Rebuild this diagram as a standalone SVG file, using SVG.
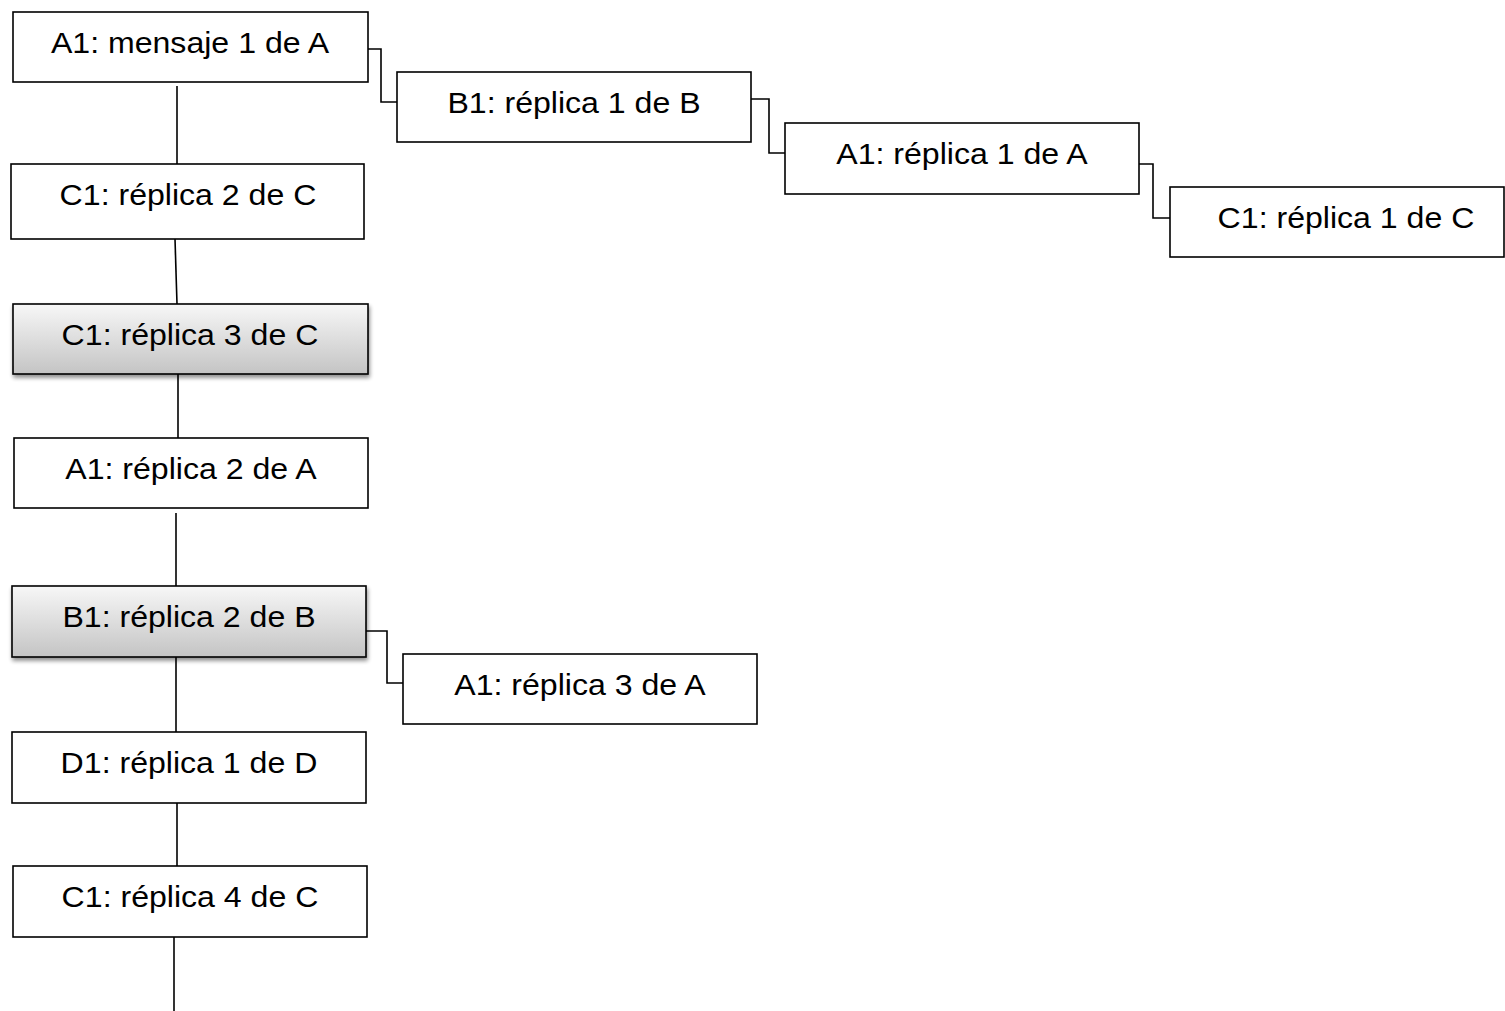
<svg xmlns="http://www.w3.org/2000/svg" width="1505" height="1011" viewBox="0 0 1505 1011">
<style>
.box{fill:#fff;stroke:#000;stroke-width:1.6}
.gbox{fill:url(#g);stroke:#000;stroke-width:1.6;filter:url(#sh)}
.lbl{font-family:"Liberation Sans",Arial,sans-serif;font-size:30px;fill:#000;text-anchor:middle}
.c{fill:none;stroke:#000;stroke-width:1.6}
</style>
<defs>
<linearGradient id="g" x1="0" y1="0" x2="0" y2="1">
<stop offset="0" stop-color="#f7f7f7"/>
<stop offset="1" stop-color="#c4c4c4"/>
</linearGradient>
<filter id="sh" x="-10%" y="-20%" width="120%" height="150%">
<feGaussianBlur in="SourceAlpha" stdDeviation="2"/>
<feOffset dx="1" dy="3" result="b"/>
<feComponentTransfer><feFuncA type="linear" slope="0.45"/></feComponentTransfer>
<feMerge><feMergeNode/><feMergeNode in="SourceGraphic"/></feMerge>
</filter>
</defs>
<g id="connectors">
<path class="c" d="M177 86 V164"/>
<path class="c" d="M175 239 L177 304"/>
<path class="c" d="M178 374 V438"/>
<path class="c" d="M176 513 V586"/>
<path class="c" d="M176 657 V732"/>
<path class="c" d="M177 803 V866"/>
<path class="c" d="M174 937 V1011"/>
<path class="c" d="M368 49 H381 V102 H397"/>
<path class="c" d="M751 99 H769 V153 H785"/>
<path class="c" d="M1139 164 H1153 V218 H1170"/>
<path class="c" d="M366 631 H387 V683 H403"/>
</g>
<g id="n1"><rect class="box" x="13" y="12" width="355" height="70"/><text class="lbl" transform="translate(190 53) scale(1.07 1)">A1: mensaje 1 de A</text></g>
<g id="n2"><rect class="box" x="397" y="72" width="354" height="70"/><text class="lbl" transform="translate(574 113) scale(1.07 1)">B1: réplica 1 de B</text></g>
<g id="n3"><rect class="box" x="785" y="123" width="354" height="71"/><text class="lbl" transform="translate(962 164) scale(1.07 1)">A1: réplica 1 de A</text></g>
<g id="n4"><rect class="box" x="1170" y="187" width="334" height="70"/><text class="lbl" transform="translate(1346 228) scale(1.07 1)">C1: réplica 1 de C</text></g>
<g id="n5"><rect class="box" x="11" y="164" width="353" height="75"/><text class="lbl" transform="translate(188 205) scale(1.07 1)">C1: réplica 2 de C</text></g>
<g id="n6"><rect class="gbox" x="13" y="304" width="355" height="70"/><text class="lbl" transform="translate(190 345) scale(1.07 1)">C1: réplica 3 de C</text></g>
<g id="n7"><rect class="box" x="14" y="438" width="354" height="70"/><text class="lbl" transform="translate(191 479) scale(1.07 1)">A1: réplica 2 de A</text></g>
<g id="n8"><rect class="gbox" x="12" y="586" width="354" height="71"/><text class="lbl" transform="translate(189 627) scale(1.07 1)">B1: réplica 2 de B</text></g>
<g id="n9"><rect class="box" x="403" y="654" width="354" height="70"/><text class="lbl" transform="translate(580 695) scale(1.07 1)">A1: réplica 3 de A</text></g>
<g id="n10"><rect class="box" x="12" y="732" width="354" height="71"/><text class="lbl" transform="translate(189 773) scale(1.07 1)">D1: réplica 1 de D</text></g>
<g id="n11"><rect class="box" x="13" y="866" width="354" height="71"/><text class="lbl" transform="translate(190 907) scale(1.07 1)">C1: réplica 4 de C</text></g>
</svg>
